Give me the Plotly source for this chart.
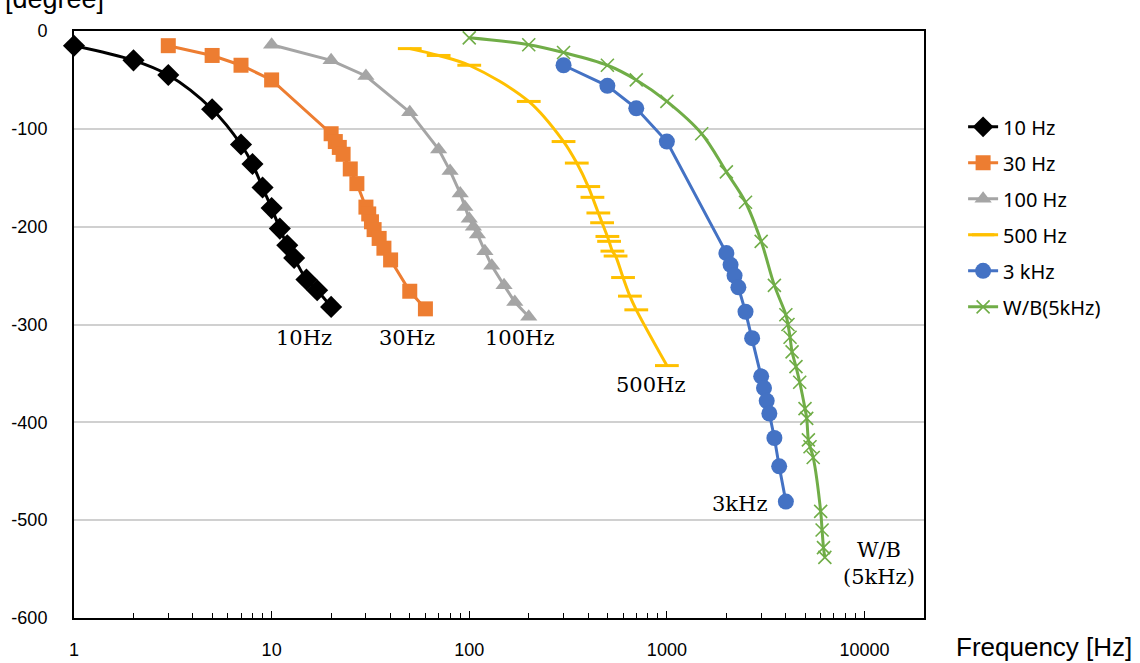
import plotly.graph_objects as go
import math

# ---- data ----
f_10 = [1, 2, 3, 5, 7, 8, 9, 10, 11, 12, 13, 15, 17, 20]
p_10 = [-15, -30, -45, -80, -116, -136, -160, -181, -202, -219, -232, -254, -265, -282]

f_30 = [3, 5, 7, 10, 20, 21, 22, 23, 25, 27, 30, 31, 32, 33, 35, 37, 40, 50, 60]
p_30 = [-15, -25, -35, -50, -105, -113, -119, -126, -141, -156, -180, -187, -195, -203, -212, -222, -234, -266, -284]

f_100 = [10, 20, 30, 50, 70, 80, 90, 95, 100, 105, 110, 120, 130, 150, 170, 200]
p_100 = [-14, -30, -46, -83, -121, -143, -166, -180, -192, -200, -208, -225, -240, -260, -277, -292]

f_500 = [50, 70, 100, 200, 300, 350, 400, 420, 450, 470, 500, 510, 530, 550, 600, 650, 700, 1000]
p_500 = [-18, -25, -35, -72, -113, -135, -159, -170, -186, -196, -210, -215, -225, -230, -252, -271, -285, -342]

f_3k = [300, 500, 700, 1000, 2000, 2100, 2200, 2300, 2500, 2700, 3000, 3100, 3200, 3300, 3500, 3700, 4000]
p_3k = [-35, -56, -79, -113, -227, -239, -250, -262, -287, -314, -353, -365, -378, -391, -416, -445, -481]

f_wb = [100, 200, 300, 500, 700, 1000, 1500, 2000, 2500, 3000, 3500, 4000, 4100, 4200, 4300,
        4500, 4700, 5000, 5100, 5200, 5300, 5500, 6000, 6100, 6200, 6300]
p_wb = [-7, -14, -22, -35, -50, -72, -105, -144, -175, -215, -260, -290, -300, -313, -328,
        -343, -359, -386, -396, -418, -425, -436, -491, -510, -528, -538]

series_names = ["10 Hz", "30 Hz", "100 Hz", "500 Hz", "3 kHz", "W/B(5kHz)"]
curve_labels = ["10Hz", "30Hz", "100Hz", "500Hz", "3kHz", "W/B<br>(5kHz)"]

y_tickvals = [0, -100, -200, -300, -400, -500, -600]
y_ticktext = ["0", "-100", "-200", "-300", "-400", "-500", "-600"]
x_tickvals = [1, 10, 100, 1000, 10000]
x_ticktext = ["1", "10", "100", "1000", "10000"]

# ---- styles ----
styles = [
    dict(color="#000000", symbol="diamond", size=17, shape="spline", mline=None),
    dict(color="#ED7D31", symbol="square", size=15, shape="linear", mline=None),
    dict(color="#A5A5A5", symbol="triangle-up", size=15, shape="linear", mline=None),
    dict(color="#FFC000", symbol="line-ew", size=17, shape="spline", mline=3),
    dict(color="#4472C4", symbol="circle", size=16, shape="linear", mline=None),
    dict(color="#70AD47", symbol="x-thin", size=13, shape="spline", mline=1.6),
]
xs = [f_10, f_30, f_100, f_500, f_3k, f_wb]
ys = [p_10, p_30, p_100, p_500, p_3k, p_wb]

fig = go.Figure()
for i, (x, y, name, st) in enumerate(zip(xs, ys, series_names, styles)):
    marker = dict(symbol=st["symbol"], size=st["size"], color=st["color"])
    if st["mline"]:
        marker["line"] = dict(color=st["color"], width=st["mline"])
    else:
        marker["line"] = dict(width=0)
    fig.add_trace(go.Scatter(
        x=x, y=y, name=name, mode="lines+markers",
        line=dict(color=st["color"], width=3, shape=st["shape"]),
        marker=marker, cliponaxis=False, legendgroup=f"g{i}",
    ))

# curve labels
label_pos = [(1.1616, -314), (1.687, -314), (2.2525, -314), (2.919, -362), (3.369, -483), (4.071, -544)]
for txt, (lx, ly) in zip(curve_labels, label_pos):
    fig.add_annotation(x=lx, y=ly, xref="x", yref="y", text=txt, showarrow=False,
                       font=dict(family="DejaVu Serif", size=21, color="#000000"))

fig.add_annotation(x=-0.084, y=1, xref="paper", yref="paper", xanchor="left", yanchor="bottom",
                   yshift=15, text="[degree]", showarrow=False,
                   font=dict(family="Liberation Sans", size=27, color="#000000"))
fig.add_annotation(x=1.0355, y=-0.049, xref="paper", yref="paper", xanchor="left", yanchor="middle",
                   text="Frequency [Hz]", showarrow=False,
                   font=dict(family="Liberation Sans", size=26, color="#000000"))

fig.update_layout(
    width=1140, height=663,
    margin=dict(l=74, r=216, t=31, b=45, autoexpand=False),
    paper_bgcolor="white", plot_bgcolor="white",
    font=dict(family="Liberation Sans", size=18, color="#000000"),
    legend=dict(x=1.046, y=0.87, xanchor="left", yanchor="top",
                font=dict(family="Noto Sans", size=20, color="#000000"),
                tracegroupgap=7, bgcolor="rgba(0,0,0,0)"),
    showlegend=True,
)
fig.update_xaxes(
    type="log", range=[0, math.log10(20000)],
    tickvals=x_tickvals, ticktext=x_ticktext,
    ticks="inside", ticklen=7, tickwidth=1, tickcolor="#000000",
    minor=dict(ticks="inside", ticklen=5, tickwidth=1, tickcolor="#000000", dtick="D1", showgrid=False),
    showgrid=False, showline=True, linecolor="#000000", linewidth=2, mirror=True,
    ticklabelstandoff=14, zeroline=False, automargin=False,
)
fig.update_yaxes(
    range=[-600, 0], tickvals=y_tickvals, ticktext=y_ticktext,
    showgrid=True, gridcolor="#D0D0D0", gridwidth=1.5,
    showline=True, linecolor="#000000", linewidth=2, mirror=True,
    ticks="", ticklabelstandoff=21, zeroline=False, automargin=False,
)

fig.write_html("out.html", config={"displayModeBar": False},
               post_script="document.body.style.margin='0';document.body.style.overflow='hidden';")
